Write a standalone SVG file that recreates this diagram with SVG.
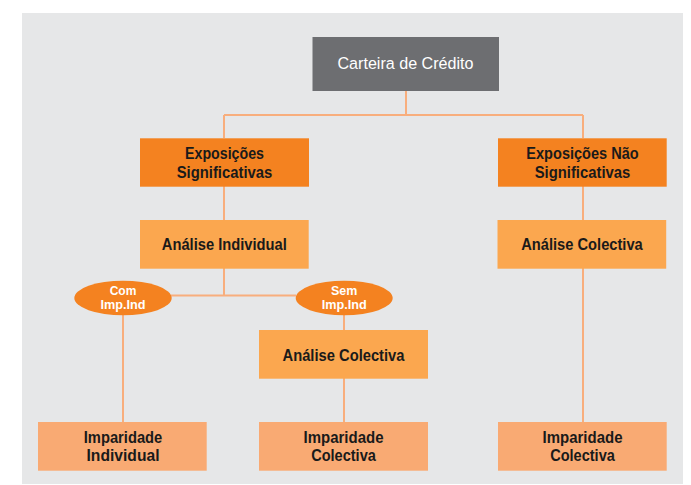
<svg xmlns="http://www.w3.org/2000/svg" width="691" height="485" viewBox="0 0 691 485">
<style>
.t{font-family:"Liberation Sans Narrow","Liberation Sans",Arial,sans-serif;font-weight:bold;font-size:16.8px;fill:#1a1a1a;text-anchor:middle}
.w{font-family:"Liberation Sans Narrow","Liberation Sans",Arial,sans-serif;font-size:16.8px;fill:#ffffff;text-anchor:middle}
.e{font-family:"Liberation Sans Narrow","Liberation Sans",Arial,sans-serif;font-weight:bold;font-size:12.5px;fill:#ffffff;text-anchor:middle}
.c{stroke:#f8ae7d;stroke-width:2;fill:none}
.d{fill:#f48220}
.m{fill:#fba74f}
.l{fill:#f9aa73}
</style>
<rect x="22" y="13" width="661" height="471" fill="#e6e7e8"/>
<g id="connectors" class="c">
<path d="M406 91V115M224 115H583M224 115V138M583 115V138"/>
<path d="M224 186V220M583 186V220M583 268V422"/>
<path d="M224 268V295.5M171 295.5H296"/>
<path d="M123 315V422M344 315V330M344 378V422"/>
</g>
<g id="carteira">
<rect x="312.5" y="37" width="186.5" height="54" fill="#6d6e71"/>
<text class="w" x="405.5" y="69" textLength="136" lengthAdjust="spacingAndGlyphs">Carteira de Crédito</text>
</g>
<g id="exp-sig">
<rect class="d" x="140" y="138.3" width="169" height="48.4"/>
<text class="t" x="224.5" y="159.3" textLength="79" lengthAdjust="spacingAndGlyphs">Exposições</text>
<text class="t" x="224.5" y="177.7" textLength="95.7" lengthAdjust="spacingAndGlyphs">Significativas</text>
</g>
<g id="exp-nao-sig">
<rect class="d" x="498" y="138.3" width="168.7" height="48.4"/>
<text class="t" x="582.5" y="159.3" textLength="112.3" lengthAdjust="spacingAndGlyphs">Exposições Não</text>
<text class="t" x="582.5" y="177.7" textLength="95.7" lengthAdjust="spacingAndGlyphs">Significativas</text>
</g>
<g id="analise-individual">
<rect class="m" x="140" y="220" width="168.7" height="48.7"/>
<text class="t" x="224.3" y="250" textLength="125" lengthAdjust="spacingAndGlyphs">Análise Individual</text>
</g>
<g id="analise-colectiva-right">
<rect class="m" x="497.5" y="220" width="168.7" height="48.7"/>
<text class="t" x="582" y="249.5" textLength="121.5" lengthAdjust="spacingAndGlyphs">Análise Colectiva</text>
</g>
<g id="com-imp">
<ellipse class="d" cx="123" cy="298" rx="48.7" ry="17.2"/>
<text class="e" x="123" y="294.8" textLength="26.7" lengthAdjust="spacingAndGlyphs">Com</text>
<text class="e" x="123" y="308.8" textLength="45" lengthAdjust="spacingAndGlyphs">Imp.Ind</text>
</g>
<g id="sem-imp">
<ellipse class="d" cx="344.2" cy="298" rx="48.5" ry="17.2"/>
<text class="e" x="344.2" y="294.8" textLength="26.3" lengthAdjust="spacingAndGlyphs">Sem</text>
<text class="e" x="344.2" y="308.8" textLength="45" lengthAdjust="spacingAndGlyphs">Imp.Ind</text>
</g>
<g id="analise-colectiva-mid">
<rect class="m" x="259" y="330" width="169" height="48.7"/>
<text class="t" x="343.5" y="361" textLength="122" lengthAdjust="spacingAndGlyphs">Análise Colectiva</text>
</g>
<g id="imp-individual">
<rect class="l" x="38" y="422" width="168.7" height="48.7"/>
<text class="t" x="123" y="443.3" textLength="78.5" lengthAdjust="spacingAndGlyphs">Imparidade</text>
<text class="t" x="123" y="461" textLength="73" lengthAdjust="spacingAndGlyphs">Individual</text>
</g>
<g id="imp-colectiva-mid">
<rect class="l" x="259" y="422" width="169" height="48.7"/>
<text class="t" x="343.5" y="443.3" textLength="80" lengthAdjust="spacingAndGlyphs">Imparidade</text>
<text class="t" x="343.5" y="461" textLength="64.7" lengthAdjust="spacingAndGlyphs">Colectiva</text>
</g>
<g id="imp-colectiva-right">
<rect class="l" x="498" y="422" width="168.7" height="48.7"/>
<text class="t" x="582.5" y="443.3" textLength="80" lengthAdjust="spacingAndGlyphs">Imparidade</text>
<text class="t" x="582.5" y="461" textLength="64.7" lengthAdjust="spacingAndGlyphs">Colectiva</text>
</g>
</svg>
